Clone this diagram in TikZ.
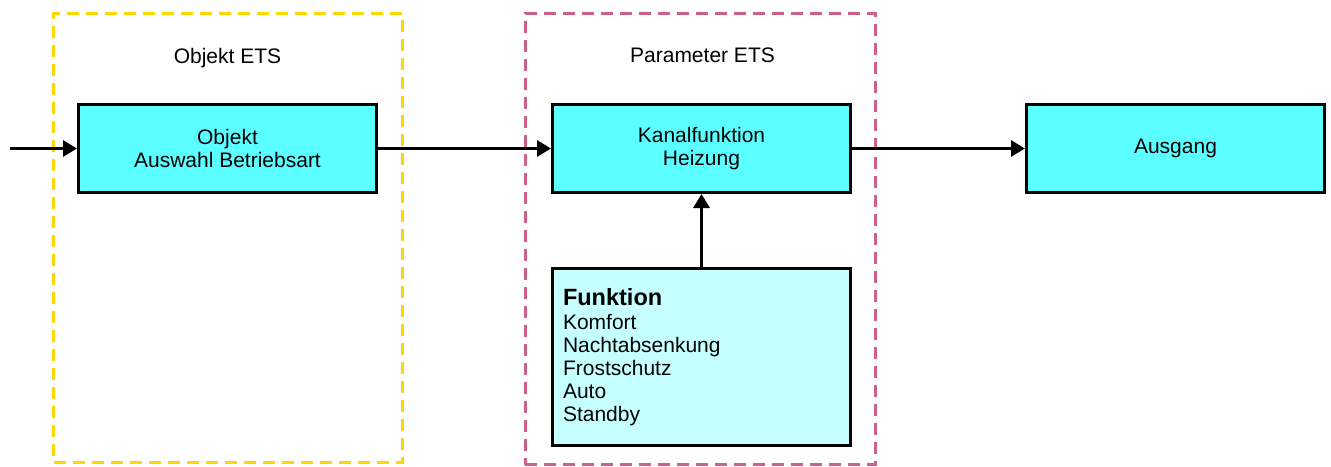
\documentclass[tikz,border=0pt]{standalone}
\usepackage{fontspec}
\setmainfont{Liberation Sans}
\usetikzlibrary{arrows.meta, positioning}

\definecolor{boxcyan}{HTML}{5CFFFF}
\definecolor{listcyan}{HTML}{C6FFFF}
\definecolor{etsyellow}{HTML}{FFD700}
\definecolor{etspink}{HTML}{D0608A}

\begin{document}
\begin{tikzpicture}[
        x=1pt, y=-1pt,
        node distance = 73pt and 173pt,
        punkt/.style = {rectangle, draw, line width=3pt, fill=boxcyan,
                        minimum width=298pt, minimum height=88pt, align=center,
                        font=\fontsize{21}{23}\selectfont},
        rahmen/.style = {rectangle, line width=3pt, dash pattern=on 12pt off 7pt},
        titel/.style = {anchor=base, font=\fontsize{21}{23}\selectfont},
        pil/.style = {black, line width=3pt, -{Triangle[length=14pt,width=16pt]}}
        ]

        \useasboundingbox (0,0) rectangle (1331,466);

        % dashed frames with titles
        \node[rahmen, draw=etsyellow, minimum width=348.5pt, minimum height=449pt] (objrahmen) at (227.75,237.5) {};
        \node[rahmen, draw=etspink, minimum width=350pt, minimum height=451.5pt] (pararahmen) at (700,238.75) {};
        \node[titel] (objtitel) at (227.5,63) {Objekt ETS};
        \node[titel] (paratitel) at (702.5,62) {Parameter ETS};

        \node[punkt] (objekt) at (227.5,148.5) {Objekt\\Auswahl Betriebsart};
        \node[punkt] (kanal) [right=of objekt] {Kanalfunktion\\Heizung};
        \node[punkt] (ausgang) [right=of kanal] {Ausgang};
        \node[punkt, fill=listcyan, minimum height=177pt, inner xsep=10.5pt, text width=277pt, align=left] (funktion) [below=of kanal]
          {{\fontsize{23.5}{25}\selectfont\bfseries Funktion}\\[1pt]
           Komfort\\Nachtabsenkung\\Frostschutz\\Auto\\Standby};

        \coordinate (eingang) at (10,148.5);

        \draw[pil] (eingang) -- (objekt);
        \draw[pil] (objekt) -- (kanal);
        \draw[pil] (kanal) -- (ausgang);
        \draw[pil] (funktion) -- (kanal);

\end{tikzpicture}
\end{document}
